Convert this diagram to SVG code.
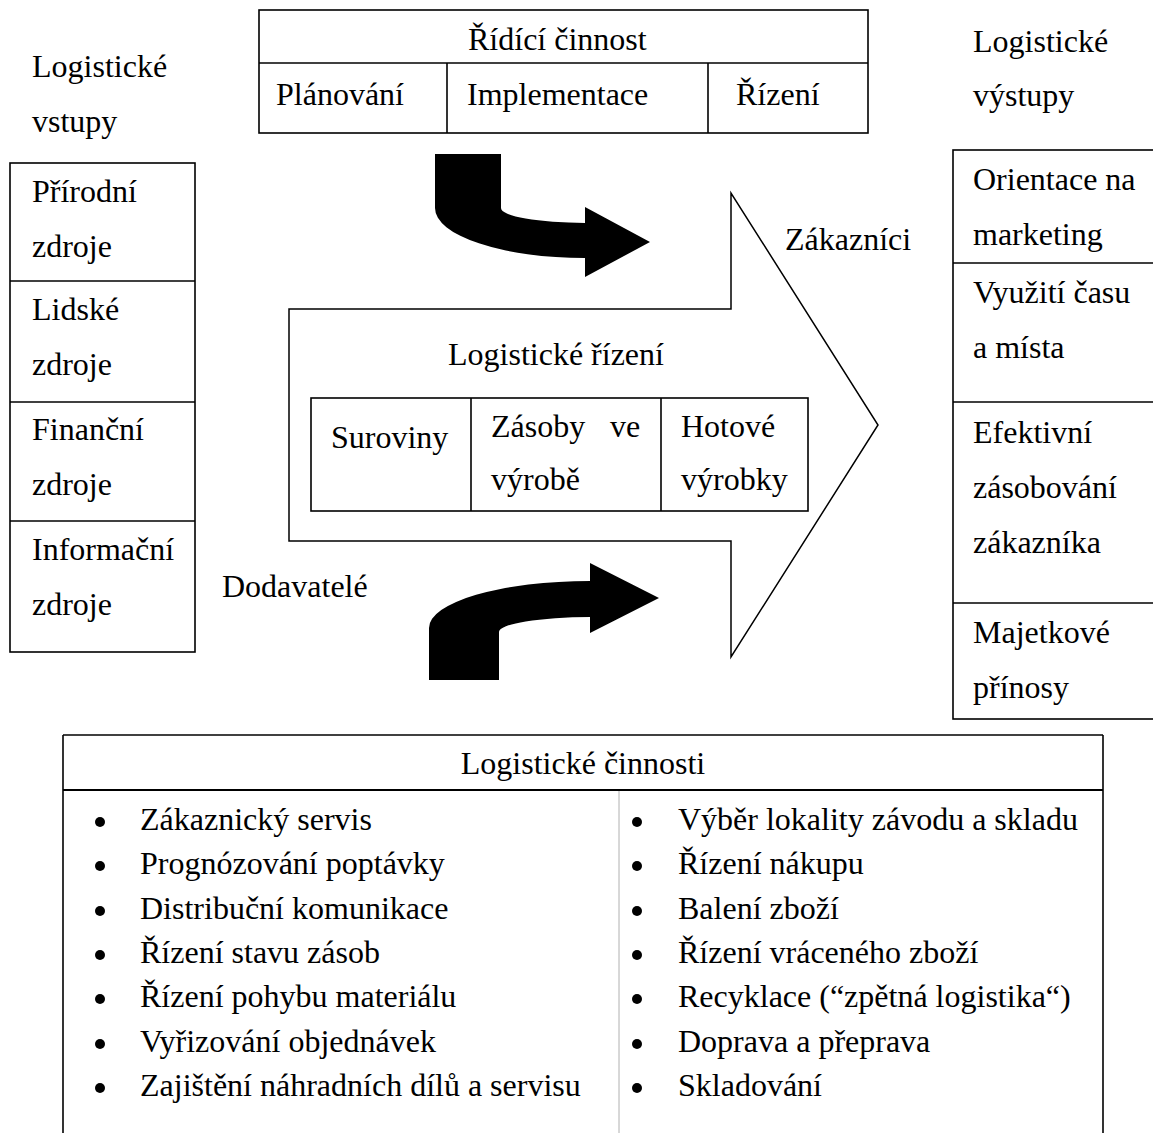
<svg xmlns="http://www.w3.org/2000/svg" width="1153" height="1133" viewBox="0 0 1153 1133">
<style>
text{font-family:"Liberation Serif","Times New Roman",serif;font-size:32px;fill:#000}
.b{fill:none;stroke:#000;stroke-width:1.6}
.ln{stroke:#000;stroke-width:1.6}
.thin{fill:none;stroke:#000;stroke-width:1.5}
.blk{fill:#000;stroke:none}
.gr{stroke:#b0b0b0;stroke-width:1}
.bul{fill:#000}
</style>
<defs><circle id="dot" r="5" class="bul"/></defs>
<rect width="1153" height="1133" fill="#fff"/>

<g id="ridici-cinnost">
<rect class="b" x="259" y="10" width="609" height="123"/>
<line class="ln" x1="259" y1="63" x2="868" y2="63"/>
<line class="ln" x1="447" y1="63" x2="447" y2="133"/>
<line class="ln" x1="708" y1="63" x2="708" y2="133"/>
<text x="468" y="50">Řídící činnost</text>
<text x="276" y="105">Plánování</text>
<text x="467" y="105">Implementace</text>
<text x="736" y="105">Řízení</text>
</g>

<g id="label-vstupy">
<text x="32" y="77">Logistické</text>
<text x="32" y="132">vstupy</text>
</g>

<g id="vstupy">
<rect class="b" x="10" y="163" width="185" height="489"/>
<line class="ln" x1="10" y1="281" x2="195" y2="281"/>
<line class="ln" x1="10" y1="402" x2="195" y2="402"/>
<line class="ln" x1="10" y1="521" x2="195" y2="521"/>
<text x="32" y="202">Přírodní</text>
<text x="32" y="257">zdroje</text>
<text x="32" y="320">Lidské</text>
<text x="32" y="375">zdroje</text>
<text x="32" y="440">Finanční</text>
<text x="32" y="495">zdroje</text>
<text x="32" y="560">Informační</text>
<text x="32" y="615">zdroje</text>
</g>

<g id="label-vystupy">
<text x="973" y="52">Logistické</text>
<text x="973" y="106">výstupy</text>
</g>

<g id="vystupy">
<rect class="b" x="953" y="150" width="210" height="569"/>
<line class="ln" x1="953" y1="263" x2="1153" y2="263"/>
<line class="ln" x1="953" y1="402" x2="1153" y2="402"/>
<line class="ln" x1="953" y1="603" x2="1153" y2="603"/>
<text x="973" y="190">Orientace na</text>
<text x="973" y="245">marketing</text>
<text x="973" y="303">Využití času</text>
<text x="973" y="358">a místa</text>
<text x="973" y="443">Efektivní</text>
<text x="973" y="498">zásobování</text>
<text x="973" y="553">zákazníka</text>
<text x="973" y="643">Majetkové</text>
<text x="973" y="698">přínosy</text>
</g>

<g id="logisticke-rizeni">
<polygon class="thin" points="289,309 731,309 731,193 878,425 731,657 731,541 289,541"/>
<text x="448" y="365">Logistické řízení</text>
<rect class="b" x="311" y="398" width="497" height="113"/>
<line class="ln" x1="471" y1="398" x2="471" y2="511"/>
<line class="ln" x1="661" y1="398" x2="661" y2="511"/>
<text x="331" y="448">Suroviny</text>
<text x="491" y="437">Zásoby</text>
<text x="610" y="437">ve</text>
<text x="491" y="490">výrobě</text>
<text x="681" y="437">Hotové</text>
<text x="681" y="490">výrobky</text>
</g>

<g id="zakaznici"><text x="785" y="250">Zákazníci</text></g>
<g id="dodavatele"><text x="222" y="597">Dodavatelé</text></g>

<g id="connectors">
<path class="blk" d="M435,154 L501,154 L501,208 A84,15 0 0 0 585,223 L585,207 L650,242 L585,277 L585,258 A150,50 0 0 1 435,208 Z"/>
<path class="blk" d="M429,680 L429,628 A161,47 0 0 1 590,581 L590,563 L659,598 L590,633 L590,617 A91,15 0 0 0 499,632 L499,680 Z"/>
</g>

<g id="logisticke-cinnosti">
<line class="ln" x1="63" y1="735" x2="1103" y2="735"/>
<line class="ln" x1="63" y1="735" x2="63" y2="1133"/>
<line class="ln" x1="1103" y1="735" x2="1103" y2="1133"/>
<line stroke="#000" stroke-width="2.2" x1="63" y1="790" x2="1103" y2="790"/>
<line class="gr" x1="619" y1="791" x2="619" y2="1133"/>
<text x="583" y="774" text-anchor="middle">Logistické činnosti</text>
<g>
<use href="#dot" x="100" y="822"/>
<use href="#dot" x="100" y="866"/>
<use href="#dot" x="100" y="911"/>
<use href="#dot" x="100" y="955"/>
<use href="#dot" x="100" y="999"/>
<use href="#dot" x="100" y="1044"/>
<use href="#dot" x="100" y="1088"/>
<use href="#dot" x="637" y="822"/>
<use href="#dot" x="637" y="866"/>
<use href="#dot" x="637" y="911"/>
<use href="#dot" x="637" y="955"/>
<use href="#dot" x="637" y="999"/>
<use href="#dot" x="637" y="1044"/>
<use href="#dot" x="637" y="1088"/>
</g>
<text x="140" y="830">Zákaznický servis</text>
<text x="140" y="874">Prognózování poptávky</text>
<text x="140" y="919">Distribuční komunikace</text>
<text x="140" y="963">Řízení stavu zásob</text>
<text x="140" y="1007">Řízení pohybu materiálu</text>
<text x="140" y="1052">Vyřizování objednávek</text>
<text x="140" y="1096">Zajištění náhradních dílů a servisu</text>
<text x="678" y="830">Výběr lokality závodu a skladu</text>
<text x="678" y="874">Řízení nákupu</text>
<text x="678" y="919">Balení zboží</text>
<text x="678" y="963">Řízení vráceného zboží</text>
<text x="678" y="1007">Recyklace (“zpětná logistika“)</text>
<text x="678" y="1052">Doprava a přeprava</text>
<text x="678" y="1096">Skladování</text>
</g>
</svg>
